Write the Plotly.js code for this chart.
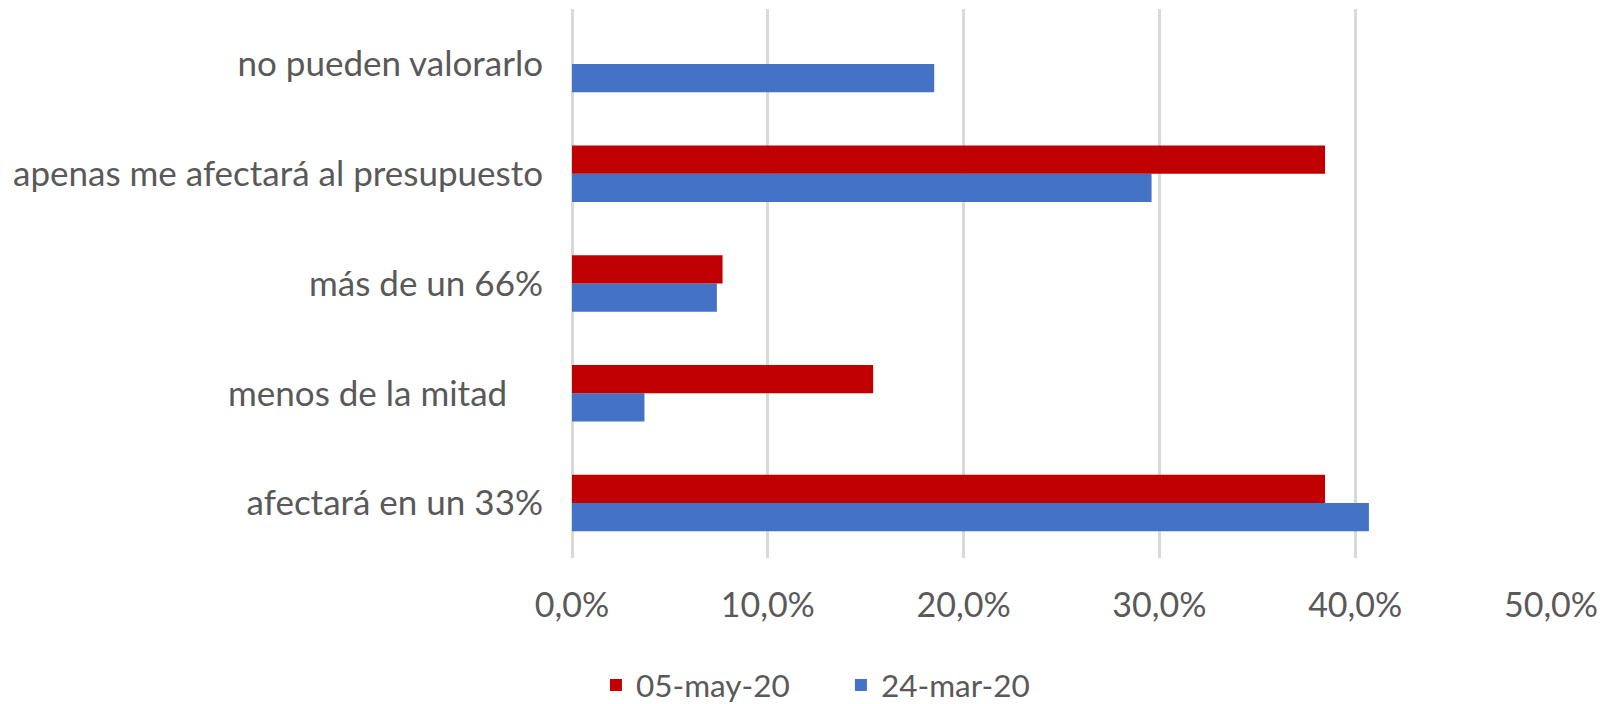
<!DOCTYPE html>
<html>
<head>
<meta charset="utf-8">
<script src="https://cdn.plot.ly/plotly-3.0.1.min.js"></script>
<style>html,body{margin:0;padding:0;background:#fff;}#chart{width:1611px;height:704px;}</style>
</head>
<body>
<div id="chart"></div>
<script>
// Categories (bottom to top)
const categories = [
  "afectará en un 33%",
  "menos de la mitad",
  "más de un 66%",
  "apenas me afectará al presupuesto",
  "no pueden valorarlo"
];
const categoryLabels = [
  "afectará en un 33%",
  "menos de la mitad\u00a0\u00a0\u00a0\u00a0",
  "más de un 66%",
  "apenas me afectará al presupuesto",
  "no pueden valorarlo"
];
const seriesMar = [0.407, 0.037, 0.074, 0.296, 0.185];   // 24-mar-20
const seriesMay = [0.3846, 0.1538, 0.0769, 0.3846, 0];   // 05-may-20
const xTickVals = [0, 0.1, 0.2, 0.3, 0.4, 0.5];

const FONT = "Lato, Carlito, Calibri, sans-serif";
const GRAY = "#595959";

const traces = [
  {
    type: "bar", orientation: "h", name: "24-mar-20",
    y: categories, x: seriesMar,
    marker: {color: "#4472C4"},
    hoverinfo: "x+y"
  },
  {
    type: "bar", orientation: "h", name: "05-may-20",
    y: categories, x: seriesMay,
    marker: {color: "#C00000"},
    hoverinfo: "x+y"
  }
];

const layout = {
  width: 1611, height: 704,
  margin: {l: 572.3, r: 59.6, t: 9, b: 145.5, pad: 0},
  paper_bgcolor: "#fff", plot_bgcolor: "#fff",
  separators: ",.",
  barmode: "group",
  bargap: 0.485,
  bargroupgap: 0,
  font: {family: FONT, size: 34, color: GRAY},
  xaxis: {
    range: [0, 0.5],
    tickvals: xTickVals,
    tickformat: ".1%",
    showgrid: true, gridcolor: "#d9d9d9", gridwidth: 3,
    zeroline: true, zerolinecolor: "#d9d9d9", zerolinewidth: 3,
    showline: false, ticks: "",
    ticklabelstandoff: 24,
    tickfont: {family: FONT, size: 34, color: GRAY},
    fixedrange: true
  },
  yaxis: {
    type: "category",
    categoryorder: "array", categoryarray: categories,
    tickvals: categories, ticktext: categoryLabels,
    range: [-0.5, 4.5],
    showgrid: false, zeroline: false, showline: false, ticks: "",
    ticklabelstandoff: 28,
    tickfont: {family: FONT, size: 35, color: GRAY},
    fixedrange: true
  },
  showlegend: true,
  legend: {
    orientation: "h",
    traceorder: "reversed",
    xref: "container", yref: "container",
    x: 0.522, xanchor: "center",
    y: 0.027, yanchor: "middle",
    font: {family: FONT, size: 31.5, color: GRAY},
    itemwidth: 30,
    entrywidth: 200, entrywidthmode: "pixels",
    bgcolor: "rgba(0,0,0,0)"
  }
};

Plotly.newPlot("chart", traces, layout, {displayModeBar: false, staticPlot: true});
</script>
</body>
</html>
